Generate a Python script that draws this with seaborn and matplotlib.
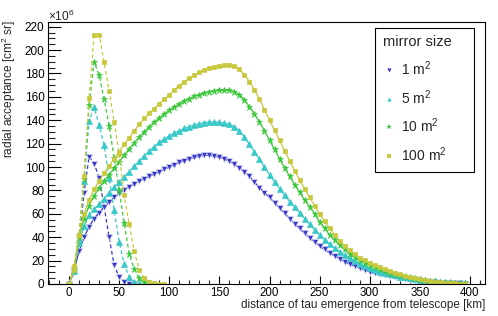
import matplotlib
matplotlib.use("Agg")
import matplotlib.pyplot as plt
import seaborn as sns
from matplotlib.lines import Line2D
from matplotlib.ticker import MultipleLocator, FixedLocator

# ---------------- data (units of 1e6 cm^2 sr) ----------------
dist_far = list(range(0, 400, 5))

far_1m2 = [0, 12, 28, 40, 49, 56, 61, 66, 70, 74,
           77.5, 80.5, 83, 85.5, 88, 90, 92, 94, 96, 98,
           100, 102, 104, 105.5, 107, 108.3, 109.3, 110, 110, 109.5,
           108.5, 107, 105, 102.5, 99.5, 96, 92, 87, 82.5, 78,
           74, 69.5, 65, 60.5, 56, 51.5, 47.5, 43.5, 39.5, 36,
           32.5, 29.5, 26.5, 24, 21.5, 19, 17, 15.2, 13.5, 12,
           10.5, 9.3, 8.2, 7.3, 6.5, 5.7, 5, 4.4, 3.8, 3.2,
           2.6, 2.2, 1.8, 1.5, 1.2, 1, 0.8, 0.6, 0.5, 0.4]
far_5m2 = [0, 13, 35, 50, 59, 64, 68, 73, 78, 83,
           87, 91.5, 96, 100.5, 105, 109.5, 113.5, 117.5, 121, 124,
           126.5, 129, 131, 133, 134.5, 136, 137, 138, 138.5, 138.5,
           138.2, 137.5, 136.5, 134.5, 131, 125.5, 119.5, 113, 106.5, 100,
           93.5, 87.5, 81.5, 76, 70.5, 65.5, 61, 56, 51, 46.5,
           42, 38, 34, 30.5, 27.5, 24.5, 22, 19.5, 17.2, 15.3,
           13.5, 12, 10.6, 9.4, 8.3, 7.3, 6.4, 5.6, 4.9, 4.2,
           3.6, 3.1, 2.6, 2.2, 1.8, 1.5, 1.2, 0.9, 0.7, 0.5]
far_10m2 = [0, 14, 40, 56, 67, 75.5, 82, 88, 93.5, 99,
            104.5, 110, 115.5, 120.5, 125.5, 130, 134.5, 138.5, 142, 145.5,
            148.5, 151.5, 154, 156.5, 158.5, 160.5, 162, 163.5, 164.5, 165.2,
            165.6, 165.7, 165.5, 164.5, 162, 157.5, 151.5, 145.5, 138.5, 131,
            123, 115, 107, 99.5, 92, 85, 78.5, 72, 66, 60,
            53, 47.5, 42, 37.5, 33.5, 29.5, 26, 23, 20.3, 18.2,
            16.5, 14.5, 12.8, 11.2, 9.8, 8.6, 7.5, 6.5, 5.6, 4.8,
            3.9, 3.4, 2.9, 2.4, 2, 1.6, 1.3, 1, 0.7, 0.5]
far_100m2 = [0, 15, 42, 60, 72, 81, 88, 95, 101, 107,
             113, 119.5, 125, 131, 136.5, 141.5, 146, 150, 154, 158,
             161.5, 166, 169.5, 173, 176, 178.5, 181, 183, 184.5, 185.8,
             186.5, 187, 187, 186, 183.5, 179, 173, 166, 158, 149,
             140, 131.5, 123, 114, 105.5, 97, 89, 81.5, 74, 67,
             60, 53.5, 47.5, 42, 37, 32.8, 29, 25.6, 22.6, 20.1,
             18, 16, 14.2, 12.5, 11, 9.6, 8.3, 7.1, 6, 5,
             4.1, 3.4, 2.7, 2.1, 1.6, 1.2, 0.9, 0.6, 0.4, 0.2]

near_1m2 = [0, 10, 35, 78, 109, 103, 91, 66, 40, 16, 6, 1.5, 0.3, 0]
near_5m2 = [0, 11, 38, 88, 139.5, 151, 136, 118.6, 91, 63, 36, 17, 6, 2, 0.5, 0]
near_10m2 = [0, 12, 42, 90, 153, 190, 178.6, 158, 135, 108, 80, 52, 26, 12.6, 5, 1.5, 0.4, 0]
near_100m2 = [0, 12, 42, 92, 159, 213, 213, 189.5, 165, 138.6, 111, 76, 51, 28, 12, 5, 2, 0.5, 0.2, 0]

labels = ["1 m$^2$", "5 m$^2$", "10 m$^2$", "100 m$^2$"]
legend_title = "mirror size"
x_label = "distance of tau emergence from telescope [km]"
y_label = "radial acceptance [cm$^2$ sr]"
x_ticks = [0, 50, 100, 150, 200, 250, 300, 350, 400]
y_ticks = [0, 20, 40, 60, 80, 100, 120, 140, 160, 180, 200, 220]

# ---------------- style ----------------
sns.set_theme(style="white")
plt.rcParams["font.family"] = ["Liberation Sans", "DejaVu Sans"]
plt.rcParams["mathtext.fontset"] = "custom"
plt.rcParams["mathtext.rm"] = "Liberation Sans"
plt.rcParams["mathtext.it"] = "Liberation Sans:italic"

colors = ["#3838c8", "#38c8c8", "#3cc83c", "#c8c83c"]
markers = ["v", "^", "*", "s"]
msizes = [3.8, 3.8, 5.0, 3.1]

fig = plt.figure(figsize=(4.98, 3.16), dpi=100)
ax = fig.add_axes([48 / 498, 1 - 284 / 316, 437 / 498, 262 / 316])

far_sets = [far_1m2, far_5m2, far_10m2, far_100m2]
near_sets = [near_1m2, near_5m2, near_10m2, near_100m2]

for i in range(4):
    yf = far_sets[i]
    sns.lineplot(x=dist_far[:len(yf)], y=yf, ax=ax, color=colors[i], marker=markers[i],
                 markersize=msizes[i], markeredgewidth=0.5, markeredgecolor="#d8d8f0" if i == 0 else colors[i],
                 linewidth=0.9, sort=False)
    yn = near_sets[i]
    sns.lineplot(x=list(range(0, 5 * len(yn), 5)), y=yn, ax=ax, color=colors[i],
                 marker=markers[i], markersize=msizes[i], markeredgewidth=0.5,
                 markeredgecolor="#d8d8f0" if i == 0 else colors[i],
                 linewidth=0.9, linestyle=(0, (3, 2.2)), sort=False)

ax.set_xlim(-21, 415)
ax.set_ylim(0, 224)
ax.xaxis.set_major_locator(FixedLocator(x_ticks))
ax.xaxis.set_minor_locator(MultipleLocator(10))
ax.yaxis.set_major_locator(FixedLocator(y_ticks))
ax.yaxis.set_minor_locator(MultipleLocator(5))
ax.set_xticklabels([str(t) for t in x_ticks])
ax.set_yticklabels([str(t) for t in y_ticks])

ax.tick_params(axis="y", which="major", direction="in", length=9.4, width=0.8,
               labelsize=8.5, pad=2.5, left=True, right=False, colors="black")
ax.tick_params(axis="y", which="minor", direction="in", length=4.7, width=0.8,
               left=True, right=False)
ax.tick_params(axis="x", which="major", direction="in", length=5.7, width=0.8,
               labelsize=8.3, pad=1.8, bottom=True, top=False, colors="black")
ax.tick_params(axis="x", which="minor", direction="in", length=2.9, width=0.8,
               bottom=True, top=False)
for s in ax.spines.values():
    s.set_visible(True)
    s.set_color("black")
    s.set_linewidth(0.8)
ax.grid(False)
ax.set_xlabel("")
ax.set_ylabel("")

fig.text(485 / 498, 1 - 305 / 316, x_label, ha="right", va="center", fontsize=8.5)
fig.text(9 / 498, 1 - 20 / 316, y_label, ha="center", va="top", rotation=90, fontsize=8.6)
fig.text(48 / 498, 1 - 16 / 316, r"$\times$10$^{6}$", ha="left", va="center", fontsize=8.6)

handles = [Line2D([], [], color=colors[i], marker=markers[i], linestyle="none",
                  markersize=msizes[i] * 0.8, markeredgewidth=0)
           for i in range(4)]
leg = ax.legend(handles, labels, title=legend_title, loc="upper left",
                bbox_to_anchor=(375 / 498, 1 - 31 / 316, 99 / 498, 0.01),
                bbox_transform=fig.transFigure, mode="expand",
                fontsize=10, title_fontsize=10.5, frameon=True, fancybox=False,
                edgecolor="black", framealpha=1, borderpad=0.55, labelspacing=0.72,
                handlelength=0.9, handletextpad=0.45, borderaxespad=0,
                alignment="left")
leg.get_frame().set_linewidth(0.8)

fig.savefig("out.png", dpi=100)
